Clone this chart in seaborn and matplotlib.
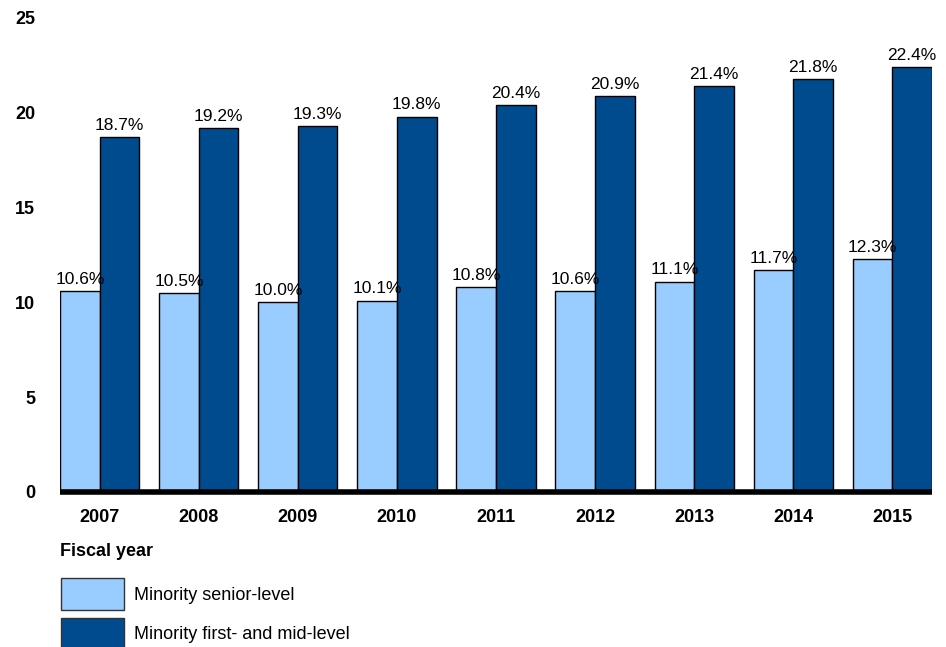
import pandas as pd
import seaborn as sns
import matplotlib.pyplot as plt
from matplotlib.patches import Patch

# DATA
years = ['2007', '2008', '2009', '2010', '2011', '2012', '2013', '2014', '2015']
senior = [10.6, 10.5, 10.0, 10.1, 10.8, 10.6, 11.1, 11.7, 12.3]
first_mid = [18.7, 19.2, 19.3, 19.8, 20.4, 20.9, 21.4, 21.8, 22.4]
series_names = ['Minority senior-level', 'Minority first- and mid-level']

df = pd.DataFrame({
    'year': years * 2,
    'pct': senior + first_mid,
    'group': [series_names[0]] * len(years) + [series_names[1]] * len(years),
})

sns.set_style('white')
plt.rcParams['font.family'] = ['Liberation Sans', 'DejaVu Sans']
plt.rcParams['text.color'] = 'black'
plt.rcParams['xtick.color'] = 'black'
plt.rcParams['ytick.color'] = 'black'

colors = ['#99CCFF', '#004B8D']

fig = plt.figure(figsize=(9.46, 6.47), dpi=100)
ax = fig.add_axes([60 / 946, 155 / 647, 872 / 946, 474 / 647])

sns.barplot(data=df, x='year', y='pct', hue='group', palette=colors,
            width=0.8, edgecolor='black', linewidth=1, saturation=1,
            legend=False, ax=ax)

for cont in ax.containers:
    ax.bar_label(cont, fmt='%.1f%%', padding=3, fontsize=12.5, color='black')

ax.set_xlim(-0.4, 8.4)
ax.set_ylim(0, 25)
ax.set_yticks([0, 5, 10, 15, 20, 25])
ax.set_xlabel('')
ax.set_ylabel('')
for s in ['top', 'right', 'left']:
    ax.spines[s].set_visible(False)
ax.spines['bottom'].set_linewidth(4)
ax.spines['bottom'].set_color('black')
ax.spines['bottom'].set_capstyle('butt')
ax.tick_params(axis='y', length=0, pad=18, labelsize=13)
ax.tick_params(axis='x', length=0, pad=12, labelsize=13)
for lbl in ax.get_xticklabels() + ax.get_yticklabels():
    lbl.set_fontweight('bold')

fig.text(60 / 946, 1 - 551 / 647, 'Fiscal year', fontsize=13, fontweight='bold',
         va='center', ha='left')

handles = [Patch(facecolor=c, edgecolor='#333333', linewidth=1) for c in colors]
fig.legend(handles, series_names, loc='upper left',
           bbox_to_anchor=(61 / 946, 1 - 578 / 647), frameon=False,
           fontsize=13, handlelength=3.5, handleheight=2.35,
           labelspacing=0.42, handletextpad=0.55, borderpad=0, borderaxespad=0)

fig.savefig('out.png', dpi=100)
